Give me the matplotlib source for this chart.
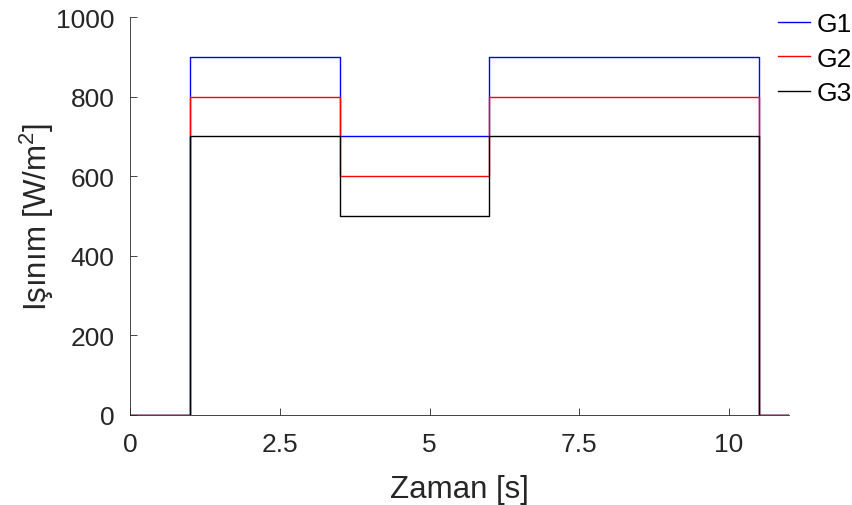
import matplotlib
matplotlib.use("Agg")
from matplotlib import pyplot as plt

plt.rcParams["font.family"] = ["Liberation Sans", "DejaVu Sans"]
plt.rcParams["mathtext.default"] = "regular"

# zaman noktalari ve isinim seviyeleri (step, post)
t = [0, 1, 3.5, 6, 10.5, 11]
g1 = [0, 900, 700, 900, 0, 0]
g2 = [0, 800, 600, 800, 0, 0]
g3 = [0, 700, 500, 700, 0, 0]
labels = ["G1", "G2", "G3"]
colors = ["#0000ff", "#ff0000", "#000000"]

fig = plt.figure(figsize=(8.53, 5.06), dpi=100)
ax = fig.add_axes([0.1524, 0.1779, 0.7726, 0.7865])

for y, lab, c in zip([g1, g2, g3], labels, colors):
    ax.step(t, y, where="post", color=c, lw=1.0, label=lab)

ax.set_xlim(0, 11)
ax.set_ylim(0, 1000)
ax.set_xticks([0, 2.5, 5, 7.5, 10])
ax.set_xticklabels(["0", "2.5", "5", "7.5", "10"])
ax.set_yticks([0, 200, 400, 600, 800, 1000])

for s in ["top", "right"]:
    ax.spines[s].set_visible(False)
for s in ["left", "bottom"]:
    ax.spines[s].set_color("#262626")
    ax.spines[s].set_linewidth(0.6)

ax.tick_params(direction="in", length=5, width=0.6, colors="#262626",
               labelsize=19)
ax.tick_params(axis="x", pad=12)
ax.tick_params(axis="y", pad=11)
ax.set_xlabel("Zaman [s]", fontsize=22.5, color="#262626", labelpad=13)
ax.set_ylabel(r"Işınım [W/m$^2$]", fontsize=22.5, color="#262626", labelpad=0)

fig.legend(loc="upper left", bbox_to_anchor=(778 / 853, 1 - 13 / 506),
           frameon=False, fontsize=19, handlelength=1.2, handletextpad=0.25,
           labelspacing=0.4, borderpad=0, borderaxespad=0)

fig.savefig("out.png", dpi=100)
